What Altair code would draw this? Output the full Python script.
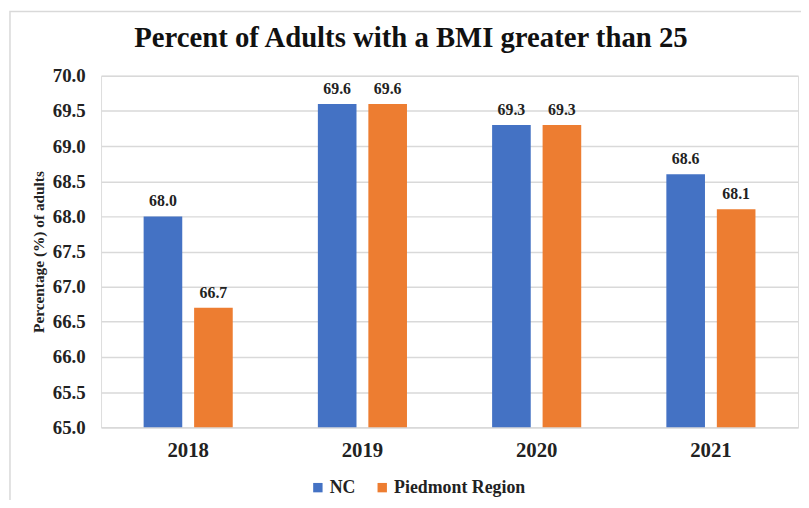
import altair as alt
import pandas as pd

years = ["2018", "2019", "2020", "2021"]
nc_values = [68.0, 69.6, 69.3, 68.6]
piedmont_values = [66.7, 69.6, 69.3, 68.1]
series_names = ["NC", "Piedmont Region"]
colors = ["#4472C4", "#ED7D31"]

rows = []
for i, y in enumerate(years):
    rows.append({"year": y, "series": series_names[0], "value": nc_values[i]})
    rows.append({"year": y, "series": series_names[1], "value": piedmont_values[i]})
df = pd.DataFrame(rows)

FONT = "Liberation Serif"

x = alt.X("year:N", title=None,
          scale=alt.Scale(paddingInner=0.4886, paddingOuter=0.2443),
          axis=alt.Axis(labelAngle=0, labelFontSize=21, labelFontWeight="bold",
                        labelFont=FONT, labelColor="#222222", ticks=False,
                        domainColor="#d9d9d9", domainWidth=1.5, labelPadding=13))
xo = alt.XOffset("series:N", sort=series_names,
                 scale=alt.Scale(paddingInner=0.235, paddingOuter=0))
y = alt.Y("value:Q", title="Percentage (%) of adults",
          scale=alt.Scale(domain=[65, 70], zero=False, nice=False),
          axis=alt.Axis(values=[65, 65.5, 66, 66.5, 67, 67.5, 68, 68.5, 69, 69.5, 70],
                        format=".1f", labelFontSize=19, labelFontWeight="bold",
                        labelFont=FONT, labelColor="#222222", ticks=False, domain=False,
                        gridColor="#d9d9d9", gridWidth=1.5, labelPadding=16,
                        titleFont=FONT, titleFontSize=15.5, titleFontWeight="bold",
                        titleColor="#222222", titlePadding=6))
color = alt.Color("series:N", sort=series_names,
                  scale=alt.Scale(domain=series_names, range=colors),
                  legend=alt.Legend(title=None, orient="none", direction="horizontal",
                                    legendX=210, legendY=407,
                                    symbolType="square", symbolSize=90,
                                    labelFont=FONT, labelFontSize=18, labelFontWeight="bold",
                                    labelColor="#222222", columnPadding=18, labelOffset=3,
                                    symbolStrokeWidth=0))

base = alt.Chart(df)

bars = base.mark_bar().encode(x=x, xOffset=xo, y=y, y2=alt.datum(65), color=color)
labels = base.mark_text(dy=-10, baseline="alphabetic", font=FONT, fontSize=16,
                        fontWeight="bold", color="#222222").encode(
    x=x, xOffset=xo, y=y, text=alt.Text("value:Q", format=".1f"))

border = alt.Chart(pd.DataFrame({"a": [0]})).mark_rect(
    fill=None, stroke="#d9d9d9", strokeWidth=1.5, clip=False).encode(
    x=alt.value(-92), x2=alt.value(720), y=alt.value(-65), y2=alt.value(440))

chart = alt.layer(border, bars, labels).properties(
    width=704, height=355,
    title=alt.TitleParams("Percent of Adults with a BMI greater than 25",
                          font=FONT, fontSize=29, fontWeight="bold", color="#111111",
                          anchor="middle", dx=-39, offset=-43),
    autosize=alt.AutoSizeParams(type="none"),
    padding={"left": 94, "top": 66, "right": 3, "bottom": 71},
).configure_view(stroke=None).configure(background="white")

chart.save("out.html", embed_options={"renderer": "svg", "actions": False})
